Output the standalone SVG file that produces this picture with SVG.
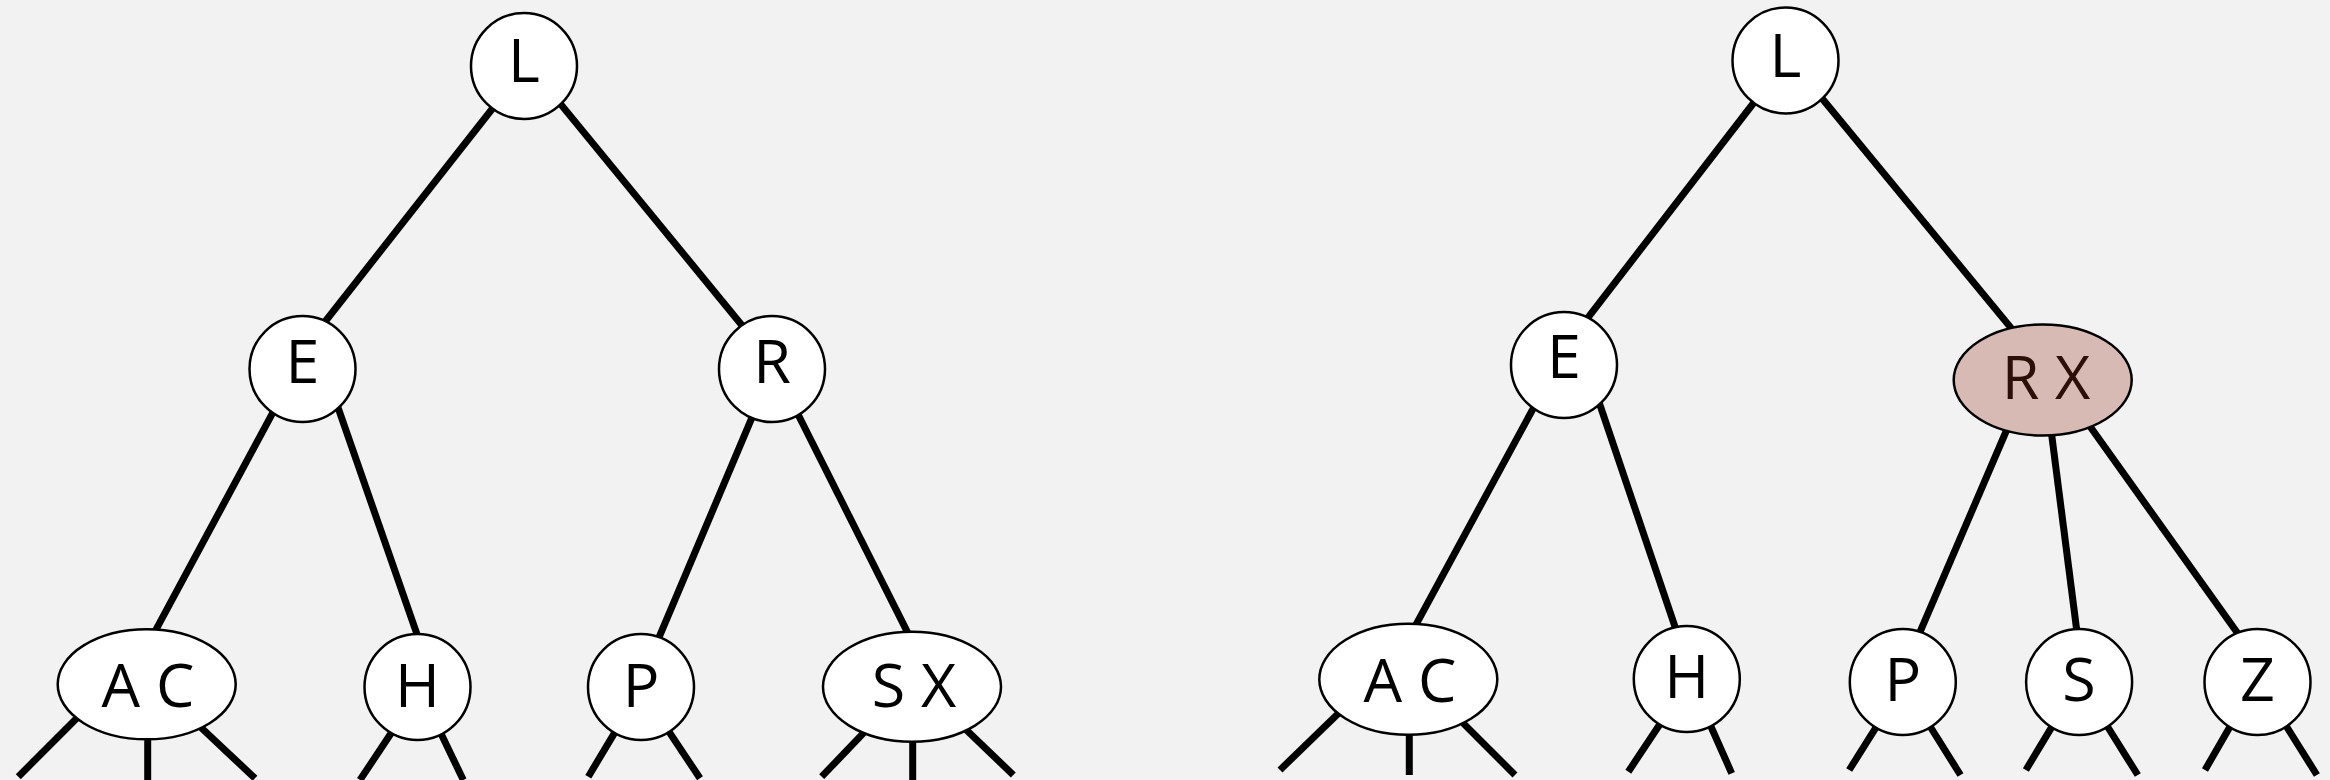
<svg xmlns="http://www.w3.org/2000/svg" width="2330" height="780" viewBox="0 0 2330 780">
<style>
.bg{fill:#f2f2f2}
.edge{stroke:#000;stroke-width:7;fill:none;stroke-linecap:butt}
.node{fill:#fff;stroke:#000;stroke-width:2.5}
.hl{fill:#d8bab4;stroke:#000;stroke-width:2.5}
.lbl{font-family:"Open Sans","Noto Sans","Liberation Sans",sans-serif;font-size:61px;fill:#000;text-anchor:middle}
.hlt{fill:#2b1008}
</style>
<rect class="bg" x="0" y="0" width="2330" height="780"/>
<g id="connectors">
<line class="edge" x1="497.6" y1="102" x2="320.1" y2="328"/>
<line class="edge" x1="554.9" y1="97.1" x2="746.8" y2="331.2"/>
<line class="edge" x1="277.1" y1="404.7" x2="152.9" y2="635.3"/>
<line class="edge" x1="335.7" y1="400.8" x2="419.3" y2="640.9"/>
<line class="edge" x1="754.8" y1="410.9" x2="656.9" y2="642.4"/>
<line class="edge" x1="794.7" y1="407.8" x2="910.3" y2="637.9"/>
<line class="edge" x1="80.7" y1="714.3" x2="18.3" y2="776.7"/>
<line class="edge" x1="147.7" y1="730" x2="147.7" y2="780"/>
<line class="edge" x1="195.9" y1="722.8" x2="255" y2="778.3"/>
<line class="edge" x1="394.4" y1="728.3" x2="360" y2="780"/>
<line class="edge" x1="438.2" y1="727.8" x2="463.3" y2="780"/>
<line class="edge" x1="617.4" y1="728.1" x2="588.3" y2="776.7"/>
<line class="edge" x1="665.6" y1="726.6" x2="700" y2="778.3"/>
<line class="edge" x1="867.2" y1="729.2" x2="821.7" y2="776.7"/>
<line class="edge" x1="912.7" y1="730" x2="912.7" y2="780"/>
<line class="edge" x1="962.5" y1="726.2" x2="1013.3" y2="775"/>
<line class="edge" x1="1758.2" y1="97" x2="1585.1" y2="321.3"/>
<line class="edge" x1="1818.2" y1="93.8" x2="2015.1" y2="332.9"/>
<line class="edge" x1="1537.1" y1="401.3" x2="1412.9" y2="630.3"/>
<line class="edge" x1="1597.4" y1="397.4" x2="1677.6" y2="634.3"/>
<line class="edge" x1="2008.4" y1="426" x2="1917.7" y2="637.4"/>
<line class="edge" x1="2050.7" y1="427.1" x2="2077.5" y2="636.2"/>
<line class="edge" x1="2086.7" y1="421.8" x2="2240.5" y2="637.2"/>
<line class="edge" x1="1342.4" y1="709.4" x2="1280" y2="770"/>
<line class="edge" x1="1409.3" y1="725" x2="1409.3" y2="775"/>
<line class="edge" x1="1457.6" y1="717.6" x2="1515" y2="775"/>
<line class="edge" x1="1662.7" y1="720" x2="1628.3" y2="771.7"/>
<line class="edge" x1="1708.5" y1="721" x2="1731.7" y2="773.3"/>
<line class="edge" x1="1878.7" y1="723.2" x2="1849.2" y2="770"/>
<line class="edge" x1="1927" y1="721.5" x2="1960.5" y2="775"/>
<line class="edge" x1="2054.1" y1="723.1" x2="2025.9" y2="770"/>
<line class="edge" x1="2104.3" y1="721.5" x2="2137.8" y2="775"/>
<line class="edge" x1="2233" y1="721.4" x2="2205" y2="770"/>
<line class="edge" x1="2283.4" y1="721.5" x2="2316.9" y2="775"/>
</g>
<g id="left-L"><circle class="node" cx="524" cy="66" r="53"/><text class="lbl" x="524" y="81.7">L</text></g>
<g id="left-E"><circle class="node" cx="302.5" cy="369" r="53"/><text class="lbl" x="302.5" y="383.3">E</text></g>
<g id="left-R"><circle class="node" cx="772" cy="369" r="53"/><text class="lbl" x="772" y="383.3">R</text></g>
<g id="left-AC"><ellipse class="node" cx="146.7" cy="684.3" rx="89" ry="55"/><text class="lbl" x="148" y="706.7">A C</text></g>
<g id="left-H"><circle class="node" cx="417.5" cy="687" r="53"/><text class="lbl" x="417.5" y="706.7">H</text></g>
<g id="left-P"><circle class="node" cx="641" cy="687" r="53"/><text class="lbl" x="641" y="706.7">P</text></g>
<g id="left-SX"><ellipse class="node" cx="912" cy="686.7" rx="89" ry="55"/><text class="lbl" x="914" y="706.7">S X</text></g>
<g id="right-L"><circle class="node" cx="1785.5" cy="60.5" r="53"/><text class="lbl" x="1785.5" y="77.3">L</text></g>
<g id="right-E"><circle class="node" cx="1564" cy="365" r="53"/><text class="lbl" x="1564" y="378.3">E</text></g>
<g id="right-RX"><ellipse class="hl" cx="2042.7" cy="380" rx="89" ry="55.5"/><text class="lbl hlt" x="2046" y="399">R X</text></g>
<g id="right-AC"><ellipse class="node" cx="1408.3" cy="679.3" rx="89" ry="55.5"/><text class="lbl" x="1410" y="701.7">A C</text></g>
<g id="right-H"><circle class="node" cx="1686.8" cy="679" r="53"/><text class="lbl" x="1686.8" y="698.3">H</text></g>
<g id="right-P"><circle class="node" cx="1902.8" cy="682" r="53"/><text class="lbl" x="1902.8" y="700.7">P</text></g>
<g id="right-S"><circle class="node" cx="2079.1" cy="682" r="53"/><text class="lbl" x="2079.1" y="700.7">S</text></g>
<g id="right-Z"><circle class="node" cx="2257.5" cy="682" r="53"/><text class="lbl" x="2257.5" y="700.7">Z</text></g>
</svg>
